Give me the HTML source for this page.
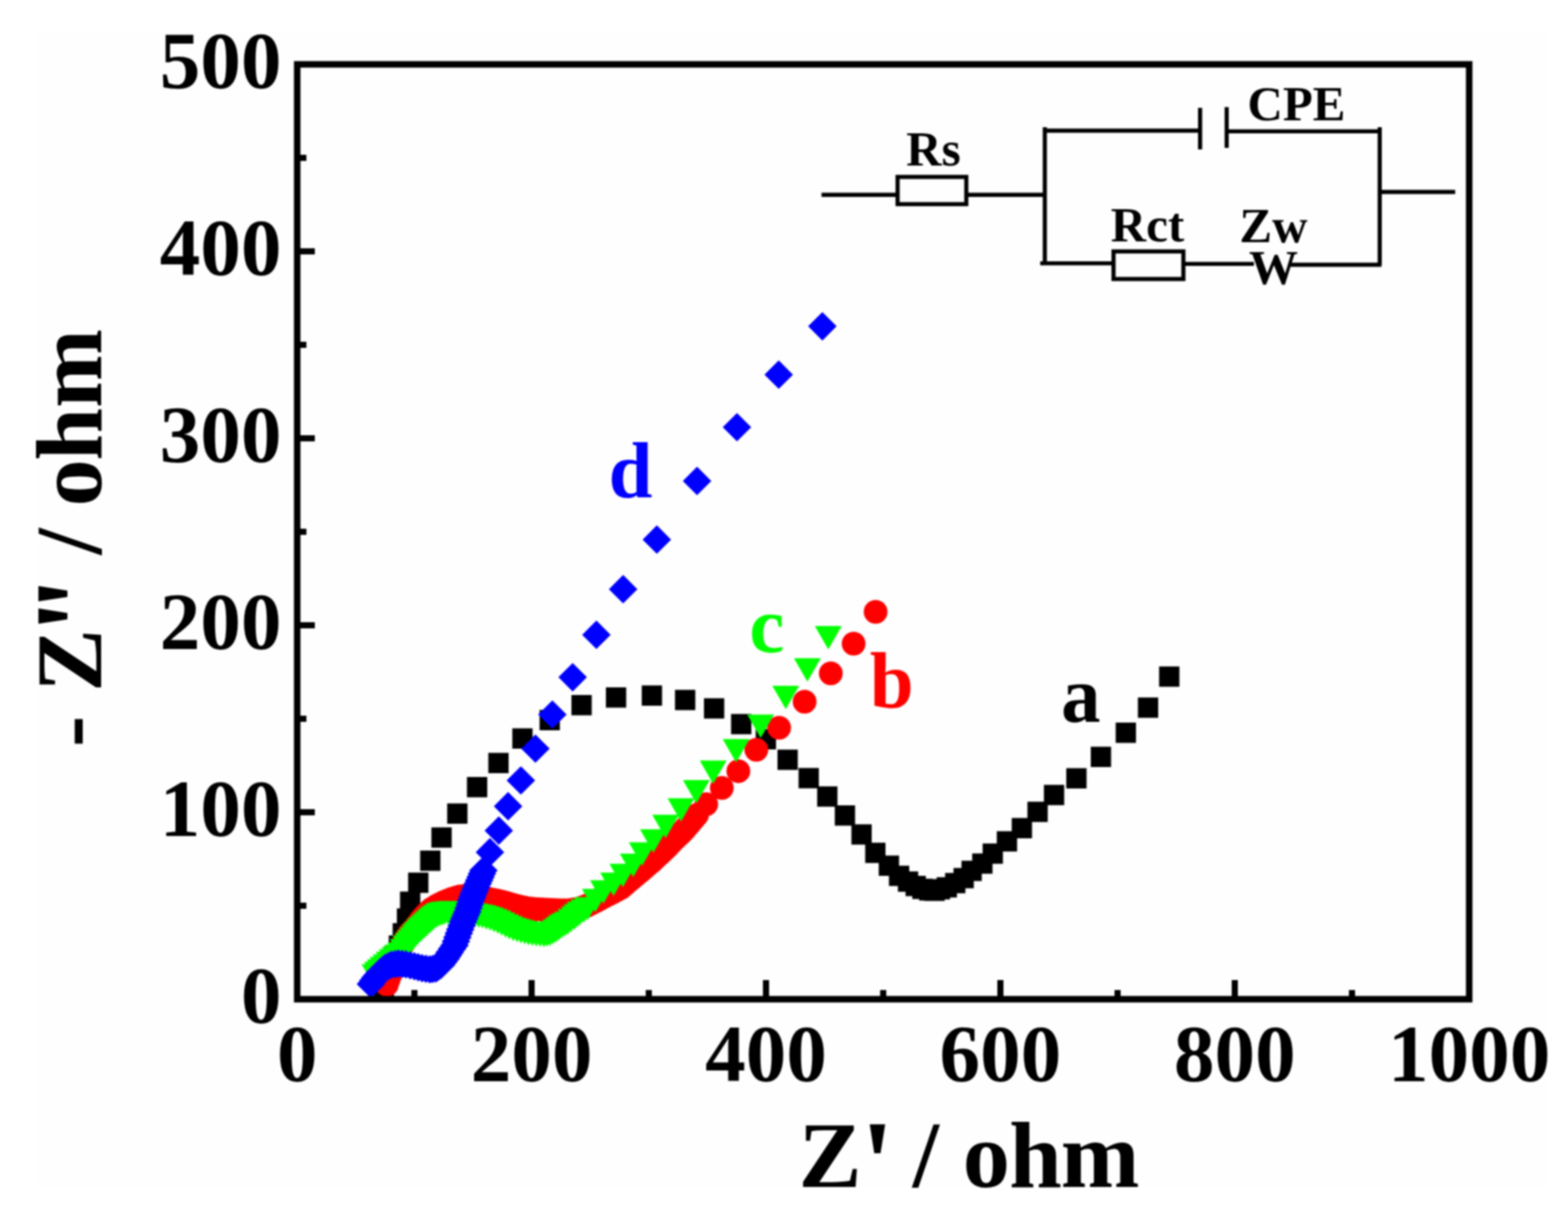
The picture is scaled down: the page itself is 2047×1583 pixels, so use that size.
<!DOCTYPE html>
<html><head><meta charset="utf-8"><title>Nyquist plot</title>
<style>html,body{margin:0;padding:0;background:#fff;}svg{display:block;filter:blur(0.9px);}</style>
</head><body>
<svg width="2047" height="1583" viewBox="0 0 2047 1583">
<rect x="0" y="0" width="2047" height="1583" fill="#ffffff"/>
<rect x="49" y="42" width="1971" height="1506" fill="#fefefe"/>
<path fill="#000000" d="M487.8 1275.8h26.5v26.5h-26.5zM490.8 1265.8h26.5v26.5h-26.5zM493.8 1254.8h26.5v26.5h-26.5zM497.8 1245.8h26.5v26.5h-26.5zM502.2 1234.8h26.5v26.5h-26.5zM507.5 1220.8h26.5v26.5h-26.5zM512.6 1204.7h26.5v26.5h-26.5zM518.1 1185.5h26.5v26.5h-26.5zM522.2 1163.5h26.5v26.5h-26.5zM532.8 1138.8h26.5v26.5h-26.5zM548.5 1110h26.5v26.5h-26.5zM563.2 1079.8h26.5v26.5h-26.5zM583.8 1048.5h26.5v26.5h-26.5zM609.6 1014h26.5v26.5h-26.5zM637.5 982.5h26.5v26.5h-26.5zM668.8 950.5h26.5v26.5h-26.5zM704.4 926.5h26.5v26.5h-26.5zM746 907h26.5v26.5h-26.5zM791 897h26.5v26.5h-26.5zM837.8 894.6h26.5v26.5h-26.5zM881.2 900.2h26.5v26.5h-26.5zM919 911.2h26.5v26.5h-26.5zM954.4 931.8h26.5v26.5h-26.5zM986.6 951.5h26.5v26.5h-26.5zM1015 978.2h26.5v26.5h-26.5zM1042.5 1002.2h26.5v26.5h-26.5zM1066.8 1026.2h26.5v26.5h-26.5zM1089.8 1051h26.5v26.5h-26.5zM1111.5 1075.8h26.5v26.5h-26.5zM1129.5 1099.8h26.5v26.5h-26.5zM1147.2 1116.5h26.5v26.5h-26.5zM1160.5 1129.8h26.5v26.5h-26.5zM1172.2 1137.2h26.5v26.5h-26.5zM1182.2 1143h26.5v26.5h-26.5zM1191 1146.8h26.5v26.5h-26.5zM1200 1148.8h26.5v26.5h-26.5zM1206.8 1149.2h26.5v26.5h-26.5zM1213.8 1147.2h26.5v26.5h-26.5zM1222.8 1144.8h26.5v26.5h-26.5zM1233.8 1139.2h26.5v26.5h-26.5zM1244.8 1132.8h26.5v26.5h-26.5zM1255.2 1123.2h26.5v26.5h-26.5zM1269.2 1113.8h26.5v26.5h-26.5zM1282.8 1100.8h26.5v26.5h-26.5zM1301.3 1084.7h26.5v26.5h-26.5zM1320.8 1067.5h26.5v26.5h-26.5zM1341.3 1046.2h26.5v26.5h-26.5zM1362.8 1024.2h26.5v26.5h-26.5zM1392 1002.4h26.5v26.5h-26.5zM1424 974.6h26.5v26.5h-26.5zM1456.5 943.1h26.5v26.5h-26.5zM1485.5 910.2h26.5v26.5h-26.5zM1513.2 869.8h26.5v26.5h-26.5z"/>
<g fill="#ff0000"><circle cx="505" cy="1285" r="15.5"/><circle cx="507.2" cy="1278.5" r="15.5"/><circle cx="509.5" cy="1272" r="15.5"/><circle cx="511" cy="1267.3" r="15.5"/><circle cx="512.5" cy="1262.7" r="15.5"/><circle cx="514" cy="1258" r="15.5"/><circle cx="516" cy="1253.3" r="15.5"/><circle cx="518" cy="1248.7" r="15.5"/><circle cx="520" cy="1244" r="15.5"/><circle cx="522.3" cy="1239.3" r="15.5"/><circle cx="524.7" cy="1234.7" r="15.5"/><circle cx="527" cy="1230" r="15.5"/><circle cx="530.5" cy="1224.5" r="15.5"/><circle cx="534" cy="1219" r="15.5"/><circle cx="537.9" cy="1215" r="15.5"/><circle cx="541.8" cy="1211" r="15.5"/><circle cx="545.4" cy="1206" r="15.5"/><circle cx="549" cy="1201" r="15.5"/><circle cx="552.5" cy="1197" r="15.5"/><circle cx="556" cy="1193" r="15.5"/><circle cx="559.5" cy="1189.8" r="15.5"/><circle cx="563" cy="1186.5" r="15.5"/><circle cx="567" cy="1184" r="15.5"/><circle cx="571" cy="1181.5" r="15.5"/><circle cx="575.5" cy="1179.2" r="15.5"/><circle cx="580" cy="1177" r="15.5"/><circle cx="585" cy="1175" r="15.5"/><circle cx="590" cy="1173" r="15.5"/><circle cx="595" cy="1171.5" r="15.5"/><circle cx="600" cy="1170" r="15.5"/><circle cx="605" cy="1169.5" r="15.5"/><circle cx="610" cy="1169" r="15.5"/><circle cx="615" cy="1169.2" r="15.5"/><circle cx="620" cy="1169.5" r="15.5"/><circle cx="625" cy="1170.5" r="15.5"/><circle cx="630" cy="1171.5" r="15.5"/><circle cx="635" cy="1172.5" r="15.5"/><circle cx="640" cy="1173.5" r="15.5"/><circle cx="645" cy="1174.5" r="15.5"/><circle cx="650" cy="1175.5" r="15.5"/><circle cx="655" cy="1176.8" r="15.5"/><circle cx="660" cy="1178" r="15.5"/><circle cx="665" cy="1179.5" r="15.5"/><circle cx="670" cy="1181" r="15.5"/><circle cx="675" cy="1182.2" r="15.5"/><circle cx="680" cy="1183.5" r="15.5"/><circle cx="685" cy="1184.5" r="15.5"/><circle cx="690" cy="1185.5" r="15.5"/><circle cx="695" cy="1186" r="15.5"/><circle cx="700" cy="1186.5" r="15.5"/><circle cx="705" cy="1186.8" r="15.5"/><circle cx="710" cy="1187" r="15.5"/><circle cx="715" cy="1187.2" r="15.5"/><circle cx="720" cy="1187.5" r="15.5"/><circle cx="725" cy="1187.8" r="15.5"/><circle cx="730" cy="1188" r="15.5"/><circle cx="736" cy="1188" r="15.5"/><circle cx="742" cy="1188" r="15.5"/><circle cx="748.5" cy="1187" r="15.5"/><circle cx="755" cy="1186" r="15.5"/><circle cx="760.5" cy="1184" r="15.5"/><circle cx="766" cy="1182" r="15.5"/><circle cx="772" cy="1179" r="15.5"/><circle cx="778" cy="1176" r="15.5"/><circle cx="783.5" cy="1173" r="15.5"/><circle cx="789" cy="1170" r="15.5"/><circle cx="794.5" cy="1167.2" r="15.5"/><circle cx="800" cy="1164.5" r="15.5"/><circle cx="805.5" cy="1161.5" r="15.5"/><circle cx="810.9" cy="1158.6" r="15.5"/><circle cx="815.5" cy="1154.5" r="15.5"/><circle cx="820" cy="1150.5" r="15.5"/><circle cx="823.7" cy="1147.5" r="15.5"/><circle cx="827.4" cy="1144.4" r="15.5"/><circle cx="831.1" cy="1141.4" r="15.5"/><circle cx="836" cy="1137.2" r="15.5"/><circle cx="841" cy="1133" r="15.5"/><circle cx="846.1" cy="1128.6" r="15.5"/><circle cx="851.3" cy="1124.2" r="15.5"/><circle cx="856.1" cy="1119.6" r="15.5"/><circle cx="861" cy="1115" r="15.5"/><circle cx="864.5" cy="1111.7" r="15.5"/><circle cx="868" cy="1108.3" r="15.5"/><circle cx="871.5" cy="1105" r="15.5"/><circle cx="876.2" cy="1100" r="15.5"/><circle cx="881" cy="1095" r="15.5"/><circle cx="884.6" cy="1091.6" r="15.5"/><circle cx="888.1" cy="1088.2" r="15.5"/><circle cx="891.7" cy="1084.8" r="15.5"/><circle cx="894.8" cy="1081.2" r="15.5"/><circle cx="897.9" cy="1077.6" r="15.5"/><circle cx="901" cy="1074" r="15.5"/><circle cx="905.5" cy="1068.8" r="15.5"/><circle cx="909.9" cy="1063.6" r="15.5"/><circle cx="922" cy="1049.6" r="15.5"/><circle cx="942.3" cy="1028.2" r="15.5"/><circle cx="963.9" cy="1006.4" r="15.5"/><circle cx="987.4" cy="978.5" r="15.5"/><circle cx="1017.1" cy="949.8" r="15.5"/><circle cx="1050.4" cy="915.7" r="15.5"/><circle cx="1084.6" cy="878.8" r="15.5"/><circle cx="1114.4" cy="840" r="15.5"/><circle cx="1143.1" cy="798.5" r="15.5"/></g>
<path fill="#00ff00" d="M472 1258.2h35.0L489.5 1288.8zM475.5 1255.1h35.0L493 1285.6zM479 1251.9h35.0L496.5 1282.4zM482.5 1248.8h35.0L500 1279.2zM486.5 1245.4h35.0L504 1275.9zM490.5 1242.1h35.0L508 1272.6zM494.5 1238.8h35.0L512 1269.2zM498.2 1235.8h35.0L515.7 1266.2zM501.8 1232.8h35.0L519.3 1263.2zM505.5 1229.8h35.0L523 1260.2zM509 1225.2h35.0L526.5 1255.8zM512.5 1220.8h35.0L530 1251.2zM515.5 1217.2h35.0L533 1247.8zM518.5 1213.8h35.0L536 1244.2zM521.5 1210h35.0L539 1240.5zM524.5 1206.3h35.0L542 1236.8zM527.5 1203h35.0L545 1233.5zM530.5 1199.8h35.0L548 1230.2zM533.5 1197h35.0L551 1227.5zM536.5 1194.2h35.0L554 1224.8zM539.5 1191.5h35.0L557 1222zM542.5 1188.8h35.0L560 1219.2zM545.5 1186h35.0L563 1216.5zM548.5 1183.2h35.0L566 1213.7zM552 1181h35.0L569.5 1211.5zM555.5 1178.8h35.0L573 1209.2zM559 1177.8h35.0L576.5 1208.2zM562.5 1176.8h35.0L580 1207.2zM567.5 1176.2h35.0L585 1206.8zM572.5 1175.8h35.0L590 1206.2zM577.5 1175.8h35.0L595 1206.2zM582.5 1175.8h35.0L600 1206.2zM587.5 1176.5h35.0L605 1207zM592.5 1177.2h35.0L610 1207.8zM597.5 1178.2h35.0L615 1208.8zM602.5 1179.2h35.0L620 1209.8zM607.5 1180.2h35.0L625 1210.8zM612.5 1181.2h35.0L630 1211.8zM617.5 1182.8h35.0L635 1213.2zM622.5 1184.2h35.0L640 1214.8zM627.5 1186.2h35.0L645 1216.8zM632.5 1188.2h35.0L650 1218.8zM637.5 1190.8h35.0L655 1221.2zM642.5 1193.2h35.0L660 1223.8zM647.5 1195.5h35.0L665 1226zM652.5 1197.8h35.0L670 1228.2zM657.5 1199.2h35.0L675 1229.8zM662.5 1200.8h35.0L680 1231.2zM667.5 1202h35.0L685 1232.5zM672.5 1203.2h35.0L690 1233.8zM677.5 1204h35.0L695 1234.5zM682.5 1204.8h35.0L700 1235.2zM687.5 1205.2h35.0L705 1235.8zM692.5 1205.8h35.0L710 1236.2zM696.5 1205h35.0L714 1235.5zM700.5 1204.2h35.0L718 1234.8zM704.5 1202h35.0L722 1232.5zM708.5 1199.8h35.0L726 1230.2zM712 1197h35.0L729.5 1227.5zM715.5 1194.2h35.0L733 1224.8zM719.5 1192h35.0L737 1222.5zM723.5 1189.8h35.0L741 1220.2zM728 1186.2h35.0L745.5 1216.8zM732.5 1182.8h35.0L750 1213.2zM736.2 1179.8h35.0L753.8 1210.2zM740 1176.8h35.0L757.5 1207.2zM744.8 1173.8h35.0L762.2 1204.2zM749.5 1170.8h35.0L767 1201.2zM759.7 1160h35.0L777.2 1190.5zM770.3 1148.8h35.0L787.8 1179.3zM783.5 1138.8h35.0L801 1169.2zM795.6 1127.2h35.0L813.1 1157.7zM809.2 1114h35.0L826.7 1144.5zM820.9 1099.3h35.0L838.4 1129.8zM835.5 1082.2h35.0L853 1112.8zM851.5 1063.2h35.0L869 1093.8zM871.5 1041.8h35.0L889 1072.2zM891.6 1018h35.0L909.1 1048.5zM913.5 992.4h35.0L931 1022.9zM943.5 964.5h35.0L961 995zM975.5 932.4h35.0L993 962.9zM1008.3 894.9h35.0L1025.8 925.4zM1036.5 858.9h35.0L1054 889.4zM1063.8 817h35.0L1081.3 847.5z"/>
<path fill="#0000ff" d="M484.2 1265.6L502.8 1284.2L484.2 1302.8L465.6 1284.2zM487.1 1261.5L505.7 1280.1L487.1 1298.7L468.5 1280.1zM490 1257.4L508.6 1276L490 1294.6L471.4 1276zM493 1253.9L511.6 1272.5L493 1291.1L474.4 1272.5zM496 1250.4L514.6 1269L496 1287.6L477.4 1269zM499.5 1247.4L518.1 1266L499.5 1284.6L480.9 1266zM503 1244.4L521.6 1263L503 1281.6L484.4 1263zM507 1242.4L525.6 1261L507 1279.6L488.4 1261zM511 1240.4L529.6 1259L511 1277.6L492.4 1259zM515.5 1239.7L534.1 1258.2L515.5 1276.8L496.9 1258.2zM520 1238.9L538.6 1257.5L520 1276.1L501.4 1257.5zM525 1239.4L543.6 1258L525 1276.6L506.4 1258zM530 1239.9L548.6 1258.5L530 1277.1L511.4 1258.5zM535.5 1241.2L554.1 1259.8L535.5 1278.3L516.9 1259.8zM541 1242.4L559.6 1261L541 1279.6L522.4 1261zM546 1243.7L564.6 1262.2L546 1280.8L527.4 1262.2zM551 1244.9L569.6 1263.5L551 1282.1L532.4 1263.5zM556 1245.7L574.6 1264.2L556 1282.8L537.4 1264.2zM561 1246.4L579.6 1265L561 1283.6L542.4 1265zM565 1245.9L583.6 1264.5L565 1283.1L546.4 1264.5zM569 1245.4L587.6 1264L569 1282.6L550.4 1264zM572.5 1242.9L591.1 1261.5L572.5 1280.1L553.9 1261.5zM576 1240.4L594.6 1259L576 1277.6L557.4 1259zM579 1236.4L597.6 1255L579 1273.6L560.4 1255zM582 1232.4L600.6 1251L582 1269.6L563.4 1251zM584.5 1228.4L603.1 1247L584.5 1265.6L565.9 1247zM587 1224.4L605.6 1243L587 1261.6L568.4 1243zM590.2 1219.8L608.8 1238.3L590.2 1256.9L571.6 1238.3zM593.4 1215.1L612 1233.7L593.4 1252.3L574.8 1233.7zM595.3 1209.9L613.9 1228.5L595.3 1247.1L576.7 1228.5zM597.1 1204.6L615.7 1223.2L597.1 1241.8L578.5 1223.2zM599 1199.4L617.6 1218L599 1236.6L580.4 1218zM600.8 1194.4L619.4 1213L600.8 1231.6L582.2 1213zM602.7 1189.4L621.3 1208L602.7 1226.6L584.1 1208zM604.5 1184.4L623.1 1203L604.5 1221.6L585.9 1203zM606.3 1180.1L624.9 1198.7L606.3 1217.3L587.7 1198.7zM608.2 1175.7L626.8 1194.3L608.2 1212.9L589.6 1194.3zM610 1171.4L628.6 1190L610 1208.6L591.4 1190zM611.7 1166.4L630.3 1185L611.7 1203.6L593.1 1185zM613.3 1161.4L631.9 1180L613.3 1198.6L594.7 1180zM615 1156.4L633.6 1175L615 1193.6L596.4 1175zM616.7 1152.1L635.3 1170.7L616.7 1189.3L598.1 1170.7zM618.3 1147.7L636.9 1166.3L618.3 1184.9L599.7 1166.3zM620 1143.4L638.6 1162L620 1180.6L601.4 1162zM621.8 1139.1L640.4 1157.7L621.8 1176.3L603.2 1157.7zM623.7 1134.7L642.3 1153.3L623.7 1171.9L605.1 1153.3zM625.5 1130.4L644.1 1149L625.5 1167.6L606.9 1149zM627.4 1126.1L646 1144.7L627.4 1163.3L608.8 1144.7zM629.2 1121.7L647.8 1140.3L629.2 1158.9L610.6 1140.3zM631.1 1117.4L649.7 1136L631.1 1154.6L612.5 1136zM639.6 1093.6L658.2 1112.2L639.6 1130.8L621 1112.2zM651.2 1065.3L669.8 1083.9L651.2 1102.5L632.6 1083.9zM663.3 1033.6L681.9 1052.2L663.3 1070.8L644.7 1052.2zM680 999.9L698.6 1018.5L680 1037.1L661.4 1018.5zM699 958.4L717.6 977L699 995.6L680.4 977zM721.1 913.9L739.7 932.5L721.1 951.1L702.5 932.5zM747.6 865.2L766.2 883.8L747.6 902.4L729 883.8zM778.6 809.8L797.2 828.4L778.6 847L760 828.4zM813.5 750.3L832.1 768.9L813.5 787.5L794.9 768.9zM857.5 685.6L876.1 704.2L857.5 722.8L838.9 704.2zM910 609.1L928.6 627.7L910 646.3L891.4 627.7zM962.1 538.9L980.7 557.5L962.1 576.1L943.5 557.5zM1016.6 470.3L1035.2 488.9L1016.6 507.5L998 488.9zM1073.6 407.2L1092.2 425.8L1073.6 444.4L1055 425.8z"/>
<rect x="388.0" y="84.0" width="1530.0" height="1220.0" fill="none" stroke="#000" stroke-width="8.5" stroke-linejoin="miter"/>
<path d="M388.0 1182h12M388.0 1060h23M388.0 938h12M388.0 816h23M388.0 694h12M388.0 572h23M388.0 450h12M388.0 328h23M388.0 206h12M541 1304.0v-12M694 1304.0v-25M847 1304.0v-12M1000 1304.0v-25M1153 1304.0v-12M1306 1304.0v-25M1459 1304.0v-12M1612 1304.0v-25M1765 1304.0v-12" stroke="#000" stroke-width="8" fill="none"/>
<text x="367.5" y="1335.3" text-anchor="end" font-family='"Liberation Serif", "Times New Roman", serif' font-weight="bold" font-size="106">0</text>
<text x="367.5" y="1091.3" text-anchor="end" font-family='"Liberation Serif", "Times New Roman", serif' font-weight="bold" font-size="106">100</text>
<text x="367.5" y="847.3" text-anchor="end" font-family='"Liberation Serif", "Times New Roman", serif' font-weight="bold" font-size="106">200</text>
<text x="367.5" y="603.3" text-anchor="end" font-family='"Liberation Serif", "Times New Roman", serif' font-weight="bold" font-size="106">300</text>
<text x="367.5" y="359.3" text-anchor="end" font-family='"Liberation Serif", "Times New Roman", serif' font-weight="bold" font-size="106">400</text>
<text x="367.5" y="115.3" text-anchor="end" font-family='"Liberation Serif", "Times New Roman", serif' font-weight="bold" font-size="106">500</text>
<text x="388" y="1411" text-anchor="middle" font-family='"Liberation Serif", "Times New Roman", serif' font-weight="bold" font-size="106">0</text>
<text x="694" y="1411" text-anchor="middle" font-family='"Liberation Serif", "Times New Roman", serif' font-weight="bold" font-size="106">200</text>
<text x="1000" y="1411" text-anchor="middle" font-family='"Liberation Serif", "Times New Roman", serif' font-weight="bold" font-size="106">400</text>
<text x="1306" y="1411" text-anchor="middle" font-family='"Liberation Serif", "Times New Roman", serif' font-weight="bold" font-size="106">600</text>
<text x="1612" y="1411" text-anchor="middle" font-family='"Liberation Serif", "Times New Roman", serif' font-weight="bold" font-size="106">800</text>
<text x="1918" y="1411" text-anchor="middle" font-family='"Liberation Serif", "Times New Roman", serif' font-weight="bold" font-size="106">1000</text>
<text x="1042.4" y="1548.6" font-family='"Liberation Serif", "Times New Roman", serif' font-weight="bold" font-size="123.5">Z<tspan font-size="160" dy="24" dx="-1.6">'</tspan><tspan dy="-24" dx="-6.9"> / o</tspan><tspan dx="-1">h</tspan><tspan dx="-1.5">m</tspan></text>
<text transform="translate(131.8 975) rotate(-90)" font-family='"Liberation Serif", "Times New Roman", serif' font-weight="bold" font-size="123.5">- Z<tspan font-size="160" dy="24" dx="-5.6 -15.3">''</tspan><tspan dy="-24" dx="-2.1"> / </tspan><tspan dx="-2.4">o</tspan><tspan dx="-1.6">h</tspan>m</text>
<text x="794.5" y="649.2" fill="#0000ff" font-family='"Liberation Serif", "Times New Roman", serif' font-weight="bold" font-size="103">d</text>
<text x="978.3" y="850.5" fill="#00ff00" font-family='"Liberation Serif", "Times New Roman", serif' font-weight="bold" font-size="103">c</text>
<text x="1135.6" y="923.2" fill="#ff0000" font-family='"Liberation Serif", "Times New Roman", serif' font-weight="bold" font-size="103">b</text>
<text x="1385.2" y="941.6" fill="#000000" font-family='"Liberation Serif", "Times New Roman", serif' font-weight="bold" font-size="103">a</text>
<path d="M1072.5 254.3H1171.8M1261.5 254.3H1364M1364 166V346M1361.3 170.5H1566.7M1566.7 140.7V194.9M1601.4 139.8V193.1M1601.4 171.4H1801.2M1801.2 166V346M1801.2 250.5H1899.7M1358 343.6H1453.4M1545 344.4H1637M1685 345.5H1803.5" stroke="#000" stroke-width="5.4" fill="none"/>
<rect x="1171.8" y="230.9" width="89.7" height="35.5" fill="none" stroke="#000" stroke-width="5.4"/>
<rect x="1453.7" y="328.1" width="91.2" height="36" fill="none" stroke="#000" stroke-width="5.4"/>
<text x="1183" y="216.4" font-family='"Liberation Serif", "Times New Roman", serif' font-weight="bold" font-size="64">Rs</text>
<text x="1628.5" y="157.3" font-family='"Liberation Serif", "Times New Roman", serif' font-weight="bold" font-size="64">CPE</text>
<text x="1450" y="315.1" font-family='"Liberation Serif", "Times New Roman", serif' font-weight="bold" font-size="64">Rct</text>
<text x="1618" y="316.3" font-family='"Liberation Serif", "Times New Roman", serif' font-weight="bold" font-size="64">Zw</text>
<text x="1630.4" y="370.5" font-family='"Liberation Serif", "Times New Roman", serif' font-weight="bold" font-size="64">W</text>
</svg>
</body></html>
